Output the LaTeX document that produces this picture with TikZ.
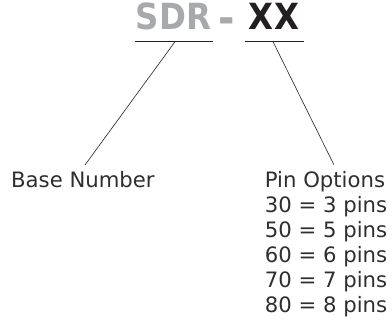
\documentclass[tikz,border=0pt]{standalone}
\usepackage{fontspec}
\setmainfont{DejaVu Sans}
\newfontfamily\titlefont{DejaVu Sans Condensed}
\definecolor{txt}{HTML}{2E2E2E}
\definecolor{sdrgray}{HTML}{A7A9AC}
\definecolor{xxblack}{HTML}{231F20}
\begin{document}
\begin{tikzpicture}[x=1pt,y=1pt,
  lbl/.style={inner sep=0pt, anchor=base west, text=txt, font=\fontsize{21.2}{25}\selectfont},
  ttl/.style={inner sep=0pt, anchor=base, font=\titlefont\bfseries\fontsize{36}{40}\selectfont},
  uline/.style={draw=xxblack, line width=1.5pt},
  lead/.style={draw=txt, line width=0.65pt}]
\useasboundingbox (0,0) rectangle (392,322);
\node[ttl, text=sdrgray] (sdr) at (173.5,292.5) {SDR};
\node[ttl, text=sdrgray, font=\titlefont\bfseries\fontsize{44}{46}\selectfont] (dash) at (226.5,288.5) {-};
\node[ttl, text=xxblack] (xx) at (274,292.5) {X\kern1ptX};
\coordinate (ua) at (135,280.3);
\coordinate (ub) at (213,280.3);
\coordinate (uc) at (245,280.3);
\coordinate (ud) at (304,280.3);
\draw[uline] (ua) -- (ub);
\draw[uline] (uc) -- (ud);
\node[lbl] (bn) at (11,134) {Base Number};
\node[lbl] (p0) at (264.7,134) {Pin Options};
\node[lbl] (p1) at (264.7,109) {30 = 3 pins};
\node[lbl] (p2) at (264.7,84) {50 = 5 pins};
\node[lbl] (p3) at (264.7,59) {60 = 6 pins};
\node[lbl] (p4) at (264.7,34) {70 = 7 pins};
\node[lbl] (p5) at (264.7,9) {80 = 8 pins};
\coordinate (s1) at (175,280.3);
\coordinate (e1) at (85,157);
\coordinate (s2) at (273,280.3);
\coordinate (e2) at (334,157);
\draw[lead] (s1) -- (e1);
\draw[lead] (s2) -- (e2);
\end{tikzpicture}
\end{document}
